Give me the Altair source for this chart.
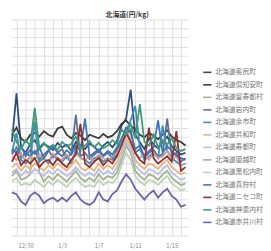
import altair as alt
import pandas as pd

names = ["北海道奥尻町", "北海道倶知安町", "北海道留寿都村", "北海道岩内町", "北海道余市町",
         "北海道共和町", "北海道寿都町", "北海道蘭越町", "北海道黒松内町", "北海道真狩村",
         "北海道ニセコ町", "北海道神恵内村", "北海道赤井川村"]
colors = ["#2f4b7c", "#3a3a3a", "#a3b18a", "#5a6f95", "#3f8fb5", "#e9b27a", "#b7bde6",
          "#c99a9a", "#bcd3b5", "#3d73b8", "#8e2f2f", "#3e9b76", "#6a62a8"]

times = pd.date_range("2020-12-28 12:00", periods=39, freq="12h").strftime("%Y-%m-%dT%H:%M:%S").tolist()

s_okushiri = [104,158,98,92,101,106,96,102,99,95,103,98,101,94,104,100,96,102,99,93,100,104,98,105,122,130,162,112,104,96,108,101,97,104,110,99,94,90,92]
s_kutchan = [112,120,108,104,112,114,110,116,112,110,119,121,112,108,114,111,106,112,110,108,113,109,111,116,124,128,122,118,112,109,114,111,107,112,117,110,106,104,100]
s_rusutsu = [66,72,62,64,68,138,70,60,66,62,68,64,60,66,72,64,60,64,60,68,62,66,64,70,84,100,92,72,66,62,68,66,62,68,72,64,60,56,58]
s_iwanai = [90,98,86,92,88,94,84,90,95,87,92,96,86,91,134,88,92,85,90,94,88,92,86,95,104,112,118,92,96,86,92,95,88,90,130,88,92,82,86]
s_yoichi = [92,114,84,80,88,126,82,86,80,90,84,82,88,80,96,86,84,80,86,88,82,86,84,90,104,116,128,144,98,84,88,92,86,122,94,86,82,78,80]
s_kyowa = [76,80,72,78,74,80,76,72,78,74,80,76,72,78,84,76,72,76,72,80,74,78,74,82,94,108,100,84,78,74,80,78,74,80,84,76,72,68,70]
s_suttsu = [70,74,66,72,68,74,70,66,72,68,74,70,66,70,76,70,66,70,66,74,68,72,68,76,88,104,96,78,72,68,74,72,68,74,78,70,66,62,64]
s_rankoshi = [88,84,92,82,88,85,90,86,82,91,86,84,90,83,92,86,84,88,82,90,86,83,88,92,100,118,106,92,86,90,84,92,86,88,94,84,88,78,80]
s_kuromatsunai = [60,64,56,58,56,62,58,54,60,56,62,58,54,60,64,58,54,56,54,62,56,60,58,64,78,92,84,66,60,56,62,60,56,62,66,58,54,50,52]
s_makkari = [96,92,100,88,95,91,98,86,94,99,92,88,95,90,100,94,130,88,92,96,89,94,90,98,108,120,114,96,100,88,94,98,128,92,99,94,89,86,84]
s_niseko = [82,92,78,84,80,86,76,82,84,78,86,80,76,84,90,124,80,76,82,86,78,84,80,88,100,114,104,92,84,80,120,86,80,84,88,82,116,72,76]
s_kamoenai = [118,104,96,106,100,142,98,103,97,101,95,104,99,102,110,96,100,105,98,103,97,100,106,102,118,112,124,108,146,104,100,112,98,106,101,108,97,94,96]
s_akaigawa = [48,46,38,34,44,48,44,36,40,42,38,42,38,44,48,40,36,34,38,48,40,38,46,50,60,68,62,52,46,40,46,50,42,48,52,44,40,32,34]

series = [s_okushiri, s_kutchan, s_rusutsu, s_iwanai, s_yoichi, s_kyowa, s_suttsu,
          s_rankoshi, s_kuromatsunai, s_makkari, s_niseko, s_kamoenai, s_akaigawa]

rows = []
for k, (n, vals) in enumerate(zip(names, series)):
    for t, v in zip(times, vals):
        rows.append({"date": t, "town": n, "value": v, "order": k})
df = pd.DataFrame(rows)

day_ticks = pd.date_range("2020-12-29", "2021-01-16", freq="D").strftime("%Y-%m-%dT00:00:00").tolist()
shown = ["12/30", "1/3", "1/7", "1/11", "1/15"]
label_expr = ("indexof(" + str(shown) + ", timeFormat(datum.value, '%-m/%-d')) >= 0 ? "
              "timeFormat(datum.value, '%-m/%-d') : ''")

font = "Noto Sans CJK JP"

chart = alt.Chart(df).mark_line(strokeWidth=1.8).encode(
    x=alt.X("date:T",
            scale=alt.Scale(domain=["2020-12-28T12:00:00", "2021-01-16T18:00:00"]),
            axis=alt.Axis(title=None, values=day_ticks, labelExpr=label_expr, format="%-m/%-d",
                          domain=False, ticks=False, labelFontSize=6, labelColor="#888",
                          labelFont=font, gridColor="#dddddd", labelPadding=7, labelOverlap=False)),
    y=alt.Y("value:Q", scale=alt.Scale(domain=[0, 240], nice=False),
            axis=alt.Axis(title=None, values=list(range(0, 241, 10)), labels=False, ticks=False,
                          domain=False, gridColor="#dddddd")),
    color=alt.Color("town:N", sort=names,
                    scale=alt.Scale(domain=names, range=colors),
                    legend=alt.Legend(title=None, orient="none", legendX=195, legendY=49,
                                      symbolType="stroke", symbolSize=70, symbolStrokeWidth=1.6,
                                      labelFontSize=7, labelFont=font, labelColor="#777",
                                      rowPadding=3.8, labelLimit=50, labelOffset=3, padding=0)),
    order=alt.Order("order:Q"),
).properties(
    width=180, height=221, padding=0,
    title=alt.TitleParams("北海道(円/kg)", fontSize=7, font=font, fontWeight="bold",
                          color="#333", offset=2, dx=28),
).configure_view(stroke=None)

chart.save("out.html", embed_options={"renderer": "svg", "actions": False})
